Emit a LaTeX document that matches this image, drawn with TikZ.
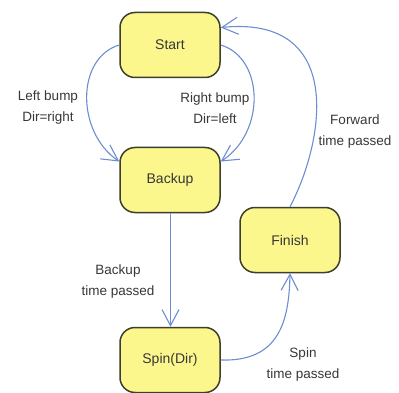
\documentclass[tikz,border=0pt]{standalone}
\usepackage{fontspec}
\setmainfont{Liberation Sans}
\usetikzlibrary{arrows.meta}
\definecolor{statefill}{RGB}{252,247,140}
\definecolor{stateedge}{RGB}{62,62,45}
\definecolor{flow}{RGB}{110,140,210}
\definecolor{ink}{RGB}{55,55,55}
\begin{document}
\begin{tikzpicture}[x=1pt,y=-1pt,
  state/.style={draw=stateedge, fill=statefill, line width=1.5pt,
    rounded corners=15pt, minimum width=100pt, minimum height=65pt,
    text=ink, font=\fontsize{14}{16}\selectfont},
  trans/.style={draw=flow, line width=1.1pt,
    -{Straight Barb[length=16pt,width=17pt,line width=1.1pt]}},
  lbl/.style={text=ink, align=center, font=\fontsize{13.5}{21}\selectfont}]
  \useasboundingbox (0,0) rectangle (399,393);

  % states
  \node[state] (start)  at (170,45)  {Start};
  \node[state] (backup) at (170,180) {Backup};
  \node[state] (spin)   at (170,360) {Spin(Dir)};
  \node[state] (finish) at (290,240) {Finish};

  % transitions
  \draw[trans] (start.west) .. controls (76,58) and (76,132) .. (backup.160);
  \draw[trans] (start.east) .. controls (264,58) and (266,132) .. (backup.20);
  \draw[trans] ([xshift=0.5pt]backup.south) -- ([xshift=0.5pt]spin.north);
  \draw[trans] (spin.east) .. controls (280,362) and (289,320) .. (finish.south);
  \draw[trans] (finish.north) .. controls (325,140) and (345,15) .. (start.19);

  % transition labels
  \node[lbl] (l1) at (48,108)  {Left bump\\Dir=right};
  \node[lbl] (l2) at (215,108) {Right bump\\Dir=left};
  \node[lbl] (l3) at (355,132) {Forward\\time passed};
  \node[lbl] (l4) at (118,282) {Backup\\time passed};
  \node[lbl] (l5) at (303,365) {Spin\\time passed};
\end{tikzpicture}
\end{document}
